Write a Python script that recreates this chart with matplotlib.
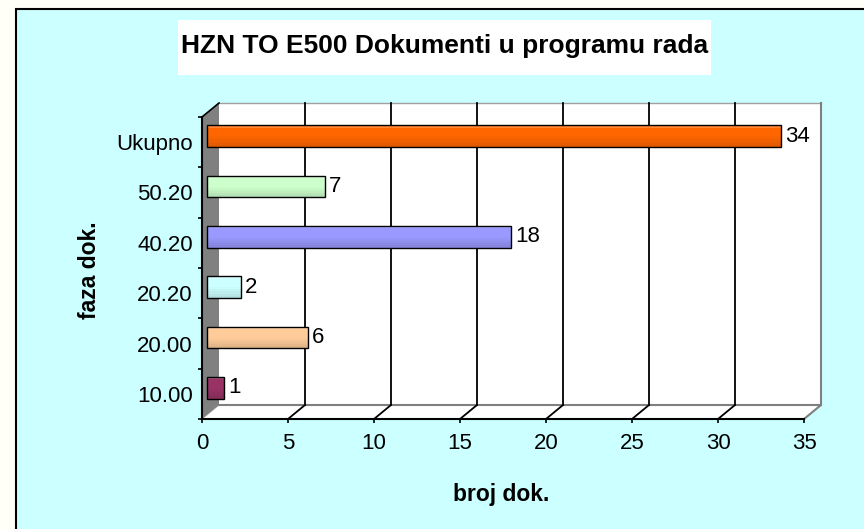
import matplotlib
matplotlib.use("Agg")
import matplotlib.pyplot as plt
import numpy as np
from matplotlib.patches import Rectangle, Polygon
from matplotlib.colors import to_rgb

plt.rcParams['font.family'] = ['Liberation Sans', 'DejaVu Sans']

# podaci
faze = ["10.00", "20.00", "20.20", "40.20", "50.20", "Ukupno"]
broj = [1, 6, 2, 18, 7, 34]
boje = ["#993366", "#FFCC99", "#CCFFFF", "#9999FF", "#CCFFCC", "#FF6600"]
x_ticks = [0, 5, 10, 15, 20, 25, 30, 35]

naslov = "HZN TO E500 Dokumenti u programu rada"
x_naslov = "broj dok."
y_naslov = "faza dok."

W, H = 864, 529
fig = plt.figure(figsize=(W / 100, H / 100), dpi=100, facecolor="#FFFFF8")

# pozadina u pikselima (okvir, naslov)
bg = fig.add_axes([0, 0, 1, 1])
bg.set_xlim(0, W)
bg.set_ylim(H, 0)
bg.axis("off")
bg.add_patch(Rectangle((16, 9), 860, 530, facecolor="#CCFFFF", edgecolor="black", lw=1.5))
bg.add_patch(Rectangle((178, 20), 533, 55, facecolor="white", edgecolor="none"))
bg.text(444.5, 46, naslov, ha="center", va="center", fontsize=19, fontweight="bold")
bg.text(89, 270, y_naslov, ha="center", va="center", rotation=90, fontsize=16.5, fontweight="bold")
bg.text(501, 494, x_naslov, ha="center", va="center", fontsize=16.5, fontweight="bold")

# glavna os = prednja ravnina
x0, x1, y_top, y_bot = 202, 804, 117, 419
ax = fig.add_axes([x0 / W, (H - y_bot) / H, (x1 - x0) / W, (y_bot - y_top) / H])
ax.set_facecolor("none")
xmax = x_ticks[-1]
n = len(faze)
ax.set_xlim(0, xmax)
ax.set_ylim(0, n)

px_x = (x1 - x0) / xmax
px_y = (y_bot - y_top) / n
DX, DY = 17 / px_x, 14 / px_y  # dubina 3D

# zidovi i pod
ax.add_patch(Rectangle((DX, DY), xmax, n, facecolor="white", edgecolor="none", clip_on=False, zorder=0))
ax.add_patch(Polygon([(0, 0), (xmax, 0), (xmax + DX, DY), (DX, DY)], closed=True,
                     facecolor="white", edgecolor="#C0C0C0", lw=0.8, clip_on=False, zorder=0.5))
ax.add_patch(Polygon([(0, 0), (0, n), (DX, n + DY), (DX, DY)], closed=True,
                     facecolor="#808080", edgecolor="none", clip_on=False, zorder=1))
ax.plot([0, DX], [n, n + DY], color="black", lw=1.2, clip_on=False, zorder=1.2)
ax.plot([DX, xmax + DX], [n + DY, n + DY], color="#A0A0A0", lw=1, clip_on=False, zorder=1)
ax.plot([DX, xmax + DX], [DY, DY], color="#808080", lw=1.5, clip_on=False, zorder=1)
ax.plot([xmax + DX, xmax + DX, xmax], [n + DY, DY, 0], color="#808080", lw=1.5, clip_on=False, zorder=1)

for v in x_ticks[1:-1]:
    ax.plot([v + DX, v + DX], [DY, n + DY], color="black", lw=1.3, clip_on=False, zorder=1)
    ax.plot([v, v + DX], [0, DY], color="black", lw=1.3, clip_on=False, zorder=1)


def mix(c, other, f):
    c = np.array(to_rgb(c))
    return tuple(c * (1 - f) + np.array(other) * f)


# stupci (blagi gradijent odozgo prema dolje)
BX, BY = 5 / px_x, 6 / px_y
sk = 0.982
h = 0.43
y = np.arange(n) + 0.5 + BY
w = np.array(broj) * sk
ax.barh(y, w, height=h, left=BX, color=boje, edgecolor="none", zorder=3)
trake = 10
for k in range(trake):
    t = (k + 0.5) / trake  # 0 = dno, 1 = vrh
    if t > 0.85:
        boja = [mix(c, (1, 1, 1), 0.2) for c in boje]
    elif t > 0.5:
        boja = list(boje)
    else:
        boja = [mix(c, (0, 0, 0), 0.14 * (0.5 - t) / 0.5) for c in boje]
    ax.barh(y - h / 2 + h * k / trake, w, height=h / trake, left=BX, align="edge",
            color=boja, edgecolor="none", zorder=3.1)
ax.barh(y, w, height=h, left=BX, fill=False, edgecolor="black", lw=1, zorder=3.2)

for yi, wi, v in zip(y, w, broj):
    ax.annotate(str(v), (BX + wi, yi), xytext=(4, 0), textcoords="offset pixels",
                ha="left", va="center", fontsize=16, zorder=4)

# osi
for s in ["top", "right"]:
    ax.spines[s].set_visible(False)
ax.spines["bottom"].set_linewidth(1.5)
ax.spines["left"].set_linewidth(1.5)
ax.spines["bottom"].set_zorder(2)
ax.spines["left"].set_zorder(2)

ax.set_xticks(x_ticks)
ax.set_xticklabels([str(t) for t in x_ticks])
ax.tick_params(axis="x", direction="out", length=3, width=1.2, pad=7, labelsize=16)

ax.set_yticks(np.arange(n) + 0.5)
ax.set_yticklabels(faze)
ax.set_yticks(np.arange(n + 1), minor=True)
ax.tick_params(axis="y", which="major", length=0, pad=6.5, labelsize=16)
ax.tick_params(axis="y", which="minor", direction="out", length=3, width=1.2)

fig.savefig("out.png", dpi=100, facecolor=fig.get_facecolor())
